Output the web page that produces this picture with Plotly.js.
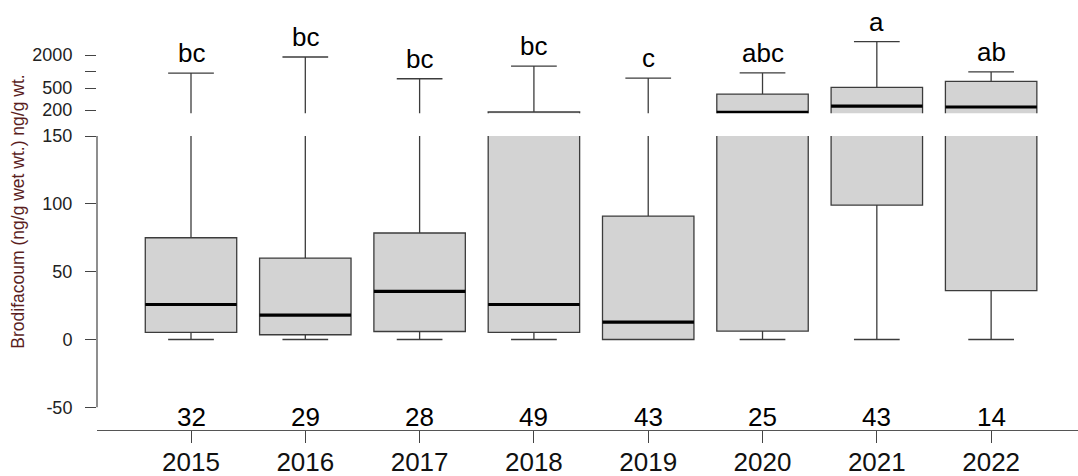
<!DOCTYPE html>
<html>
<head>
<meta charset="utf-8">
<script src="https://cdn.plot.ly/plotly-3.0.1.min.js"></script>
<style>
  html, body { margin: 0; padding: 0; background: #fff; }
  #chart { width: 1078px; height: 476px; }
</style>
</head>
<body>
<div id="chart"></div>
<script>
// Brodifacoum residues per year: five-number summaries, sample sizes and
// significance-group letters.
const years = [2015, 2016, 2017, 2018, 2019, 2020, 2021, 2022];
const sampleSizes = [32, 29, 28, 49, 43, 25, 43, 14];
const groupLetters = ['bc', 'bc', 'bc', 'bc', 'c', 'abc', 'a', 'ab'];
const lowerFence = [0, 0, 0, 0, 0, 0, 0, 0];
const q1 = [5.2, 3.5, 5.9, 5.2, 0, 6.2, 99, 36];
const median = [25.8, 18, 35.4, 25.8, 12.8, 182, 236, 227];
const q3 = [75, 60, 78.5, 184, 91, 390, 518, 665];
const upperFence = [940, 1840, 740, 1260, 760, 950, 3490, 990];

// Lower panel is linear (-50..150); upper panel is log (200..2000+).
const FONT = 'Liberation Sans, Arial, sans-serif';
const BOX_W = 0.8;
const LOG_FLOOR = 100; // anything under the upper panel's visible range
const clampLog = v => Math.max(v, LOG_FLOOR);

const boxStyle = {
  type: 'box',
  x: years,
  width: BOX_W,
  whiskerwidth: 0.5,
  fillcolor: '#d3d3d3',
  line: { color: '#3c3c3c', width: 1.3 },
  boxpoints: false,
  hoverinfo: 'skip',
  showlegend: false
};

const lowerBoxes = Object.assign({}, boxStyle, {
  q1: q1, median: median, q3: q3,
  lowerfence: lowerFence, upperfence: upperFence,
  xaxis: 'x', yaxis: 'y'
});

const upperBoxes = Object.assign({}, boxStyle, {
  q1: q1.map(clampLog), median: median.map(clampLog), q3: q3.map(clampLog),
  lowerfence: lowerFence.map(clampLog), upperfence: upperFence.map(clampLog),
  xaxis: 'x', yaxis: 'y2'
});

// Thick median bars drawn over each box.
function medianSegments(axis) {
  const xs = [], ys = [];
  years.forEach((yr, i) => {
    xs.push(yr - BOX_W / 2, yr + BOX_W / 2, null);
    ys.push(median[i], median[i], null);
  });
  return {
    type: 'scatter', mode: 'lines', x: xs, y: ys,
    xaxis: 'x', yaxis: axis,
    line: { color: '#000', width: 3.2 },
    hoverinfo: 'skip', showlegend: false, connectgaps: false
  };
}

const annotations = [];
years.forEach((yr, i) => {
  annotations.push({
    xref: 'x', yref: 'y2', x: yr, y: Math.log10(upperFence[i]),
    text: groupLetters[i], showarrow: false,
    yanchor: 'bottom', yshift: 3,
    font: { family: FONT, size: 26, color: '#000' }
  });
  annotations.push({
    xref: 'x', yref: 'y', x: yr, y: -57,
    text: String(sampleSizes[i]), showarrow: false,
    yanchor: 'middle',
    font: { family: FONT, size: 26, color: '#000' }
  });
});
annotations.push({
  xref: 'paper', yref: 'paper', x: -0.0805, y: 0.52,
  text: 'Brodifacoum (ng/g wet wt.) ng/g wt.', showarrow: false,
  textangle: -90, xanchor: 'center', yanchor: 'middle',
  font: { family: FONT, size: 17.5, color: '#5a1e1e' }
});

const axisCol = '#444';
const layout = {
  width: 1078, height: 476,
  margin: { l: 97, r: 0, t: 10, b: 46, pad: 0 },
  paper_bgcolor: '#fff', plot_bgcolor: '#fff',
  showlegend: false,
  font: { family: FONT, color: '#111' },
  xaxis: {
    range: [2014.1776, 2022.760],
    tickvals: years, ticktext: years.map(String),
    ticks: 'outside', ticklen: 12, tickwidth: 1, tickcolor: axisCol,
    ticklabelstandoff: -4,
    showline: true, linecolor: '#555', linewidth: 1.3,
    showgrid: false, zeroline: false,
    tickfont: { family: FONT, size: 26, color: '#111' },
    anchor: 'y'
  },
  yaxis: {
    domain: [0, 0.7], range: [-66.73, 150],
    tickvals: [-50, 0, 50, 100, 150],
    ticktext: ['-50', '0', '50', '100', '150'],
    ticks: 'outside', ticklen: 11, tickwidth: 1, tickcolor: axisCol,
    ticklabelstandoff: 9,
    showline: false, showgrid: false, zeroline: false,
    tickfont: { family: FONT, size: 18, color: '#222' },
    anchor: 'x'
  },
  yaxis2: {
    domain: [0.754, 1], type: 'log', range: [2.241, 4.119],
    tickvals: [200, 500, 1000, 2000], ticktext: ['200', '500', '', '2000'],
    ticks: 'outside', ticklen: 11, tickwidth: 1, tickcolor: axisCol,
    ticklabelstandoff: 9,
    showline: false, showgrid: false, zeroline: false,
    tickfont: { family: FONT, size: 18, color: '#222' },
    anchor: 'x'
  },
  shapes: [
    { type: 'line', xref: 'paper', yref: 'y', x0: 0, x1: 0, y0: -50, y1: 150,
      line: { color: axisCol, width: 1.2 } },
    { type: 'line', xref: 'paper', yref: 'y2', x0: 0, x1: 0,
      y0: Math.log10(200), y1: Math.log10(2000),
      line: { color: axisCol, width: 1.2 } }
  ],
  annotations: annotations
};

Plotly.newPlot('chart',
  [lowerBoxes, upperBoxes, medianSegments('y'), medianSegments('y2')],
  layout, { staticPlot: true, displayModeBar: false });
</script>
</body>
</html>
